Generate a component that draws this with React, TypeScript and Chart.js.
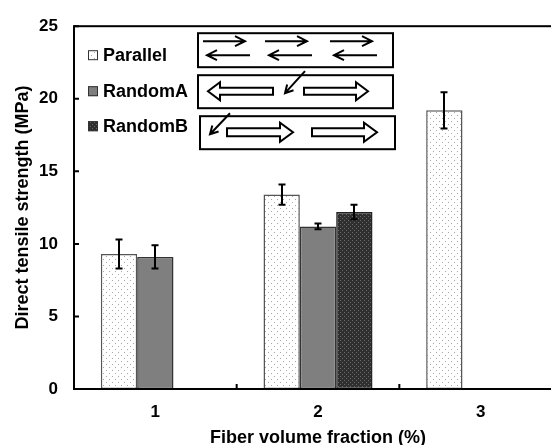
import React, { useEffect, useRef } from "react";
import { Chart, registerables } from "chart.js";

Chart.register(...registerables);

// ---- data ----
const categories = ["1", "2", "3"];
const seriesNames = ["Parallel", "RandomA", "RandomB"];
const parallelValues = [9.3, 13.4, 19.2];
const parallelErrors = [1.0, 0.7, 1.25];
const randomAValues = [9.1, 11.2, null];
const randomAErrors = [0.8, 0.2, null];
const randomBValues = [null, 12.2, null];
const randomBErrors = [null, 0.5, null];
const yTickValues = [0, 5, 10, 15, 20, 25];
const yTitle = "Direct tensile strength (MPa)";
const xTitle = "Fiber volume fraction (%)";

const FONT = "'Liberation Sans', Arial, Helvetica, sans-serif";

function makePattern(bg: string, dot: string, size: number, dots: [number, number][]) {
  const c = document.createElement("canvas");
  c.width = size;
  c.height = size;
  const g = c.getContext("2d")!;
  g.fillStyle = bg;
  g.fillRect(0, 0, size, size);
  g.fillStyle = dot;
  dots.forEach(([x, y]) => g.fillRect(x, y, 1, 1));
  const p = g.createPattern(c, "repeat");
  return p as CanvasPattern;
}

export default function App() {
  const ref = useRef<HTMLCanvasElement>(null);

  useEffect(() => {
    const canvas = ref.current!;
    const pParallel = makePattern("#ffffff", "#a8a8a8", 6, [[1, 1], [4, 4]]);
    const pRandomA = "#7f7f7f";
    const pRandomB = makePattern("#2f2f2f", "#6a6a6a", 4, [[0, 0], [2, 2]]);
    const fills: (string | CanvasPattern)[] = [pParallel, pRandomA, pRandomB];
    const borders = ["#555555", "#333333", "#222222"];
    const values = [parallelValues, randomAValues, randomBValues];
    const errors = [parallelErrors, randomAErrors, randomBErrors];

    const decor = {
      id: "decor",
      afterDatasetsDraw(chart: any) {
        const ctx: CanvasRenderingContext2D = chart.ctx;
        const { left, top, right, bottom } = chart.chartArea;
        const ys = chart.scales.y;
        const xs = chart.scales.x;
        ctx.save();
        // error bars
        ctx.strokeStyle = "#000";
        ctx.lineWidth = 2;
        errors.forEach((errArr, di) => {
          const meta = chart.getDatasetMeta(di);
          meta.data.forEach((el: any, i: number) => {
            const v = values[di][i];
            const e = errArr[i];
            if (v == null || e == null) return;
            const x = Math.round(el.x);
            const y1 = ys.getPixelForValue(v + e);
            const y2 = ys.getPixelForValue(v - e);
            ctx.beginPath();
            ctx.moveTo(x, y1);
            ctx.lineTo(x, y2);
            ctx.moveTo(x - 3.5, y1);
            ctx.lineTo(x + 3.5, y1);
            ctx.moveTo(x - 3.5, y2);
            ctx.lineTo(x + 3.5, y2);
            ctx.stroke();
          });
        });
        // frame
        ctx.lineWidth = 2;
        ctx.strokeRect(left, top, right - left, bottom - top);
        // inner ticks
        ctx.beginPath();
        yTickValues.forEach((t) => {
          const y = ys.getPixelForValue(t);
          ctx.moveTo(left, y);
          ctx.lineTo(left + 5, y);
        });
        for (let i = 1; i < categories.length; i++) {
          const xb = (xs.getPixelForValue(i - 1) + xs.getPixelForValue(i)) / 2;
          ctx.moveTo(xb, bottom);
          ctx.lineTo(xb, bottom - 5);
        }
        ctx.stroke();

        // legend
        const lx = left + 14;
        const rowY = [top + 29, top + 65, top + 100];
        ctx.font = `bold 18px ${FONT}`;
        ctx.textBaseline = "middle";
        ctx.textAlign = "left";
        seriesNames.forEach((name, i) => {
          ctx.fillStyle = fills[i] as any;
          ctx.fillRect(lx, rowY[i] - 5, 10, 10);
          ctx.lineWidth = 1;
          ctx.strokeStyle = "#333";
          ctx.strokeRect(lx + 0.5, rowY[i] - 4.5, 9, 9);
          ctx.fillStyle = "#000";
          ctx.fillText(name, lx + 15, rowY[i] + 1);
        });

        // boxes with arrows
        ctx.strokeStyle = "#000";
        ctx.lineWidth = 2;
        const bx = left + 124;
        ctx.strokeRect(bx, top + 7, 195, 34);
        ctx.strokeRect(bx, top + 49, 195, 33);
        ctx.strokeRect(bx + 2, top + 90, 195, 33);

        const lineArrow = (x1: number, y: number, x2: number) => {
          const d = Math.sign(x2 - x1);
          ctx.beginPath();
          ctx.moveTo(x1, y);
          ctx.lineTo(x2, y);
          ctx.moveTo(x2 - d * 10, y - 5);
          ctx.lineTo(x2, y);
          ctx.lineTo(x2 - d * 10, y + 5);
          ctx.stroke();
        };
        const diagArrow = (x1: number, y1: number, x2: number, y2: number) => {
          const a = Math.atan2(y2 - y1, x2 - x1);
          const h = 9;
          ctx.beginPath();
          ctx.moveTo(x1, y1);
          ctx.lineTo(x2, y2);
          ctx.moveTo(x2 - h * Math.cos(a - 0.5), y2 - h * Math.sin(a - 0.5));
          ctx.lineTo(x2, y2);
          ctx.lineTo(x2 - h * Math.cos(a + 0.5), y2 - h * Math.sin(a + 0.5));
          ctx.stroke();
        };
        const blockArrow = (tail: number, tip: number, y: number, sh: number, hh: number, hl: number) => {
          const d = Math.sign(tip - tail);
          const hb = tip - d * hl;
          ctx.beginPath();
          ctx.moveTo(tail, y - sh / 2);
          ctx.lineTo(hb, y - sh / 2);
          ctx.lineTo(hb, y - hh / 2);
          ctx.lineTo(tip, y);
          ctx.lineTo(hb, y + hh / 2);
          ctx.lineTo(hb, y + sh / 2);
          ctx.lineTo(tail, y + sh / 2);
          ctx.closePath();
          ctx.stroke();
        };
        ctx.lineWidth = 2;
        // box 1: parallel fibers
        [0, 62, 127].forEach((o) => {
          lineArrow(bx + 5 + o, top + 15, bx + 47 + o);
          lineArrow(bx + 52 + o, top + 29, bx + 9 + o);
        });
        // box 2
        blockArrow(bx + 75, bx + 10, top + 65, 7, 18, 12);
        blockArrow(bx + 106, bx + 170, top + 65, 7, 18, 12);
        diagArrow(bx + 107, top + 45, bx + 87, top + 67);
        // box 3
        diagArrow(bx + 32, top + 87, bx + 12, top + 108);
        blockArrow(bx + 29, bx + 95, top + 106, 8, 19, 13);
        blockArrow(bx + 114, bx + 179, top + 106, 8, 19, 13);
        ctx.restore();
      },
    };

    const chart = new Chart(canvas, {
      type: "bar",
      data: {
        labels: categories,
        datasets: seriesNames.map((name, i) => ({
          label: name,
          data: values[i] as any,
          backgroundColor: fills[i] as any,
          borderColor: borders[i],
          borderWidth: 1.5,
          borderSkipped: false,
          categoryPercentage: 0.67,
          barPercentage: 1.0,
        })),
      },
      options: {
        responsive: false,
        animation: false,
        devicePixelRatio: 1,
        layout: { padding: { top: 20, right: 13, left: 0, bottom: 0 } },
        plugins: {
          legend: { display: false },
          tooltip: { enabled: false },
        },
        scales: {
          x: {
            grid: { display: false, drawTicks: false },
            border: { display: false },
            ticks: { color: "#000", font: { family: FONT, size: 17, weight: "bold" }, padding: 13 },
            title: {
              display: true,
              text: xTitle,
              color: "#000",
              font: { family: FONT, size: 18, weight: "bold", lineHeight: 0.78 },
              padding: { top: 0, bottom: 0 },
            },
            afterFit: (s: any) => {
              s.height = 56;
            },
          },
          y: {
            min: 0,
            max: 25,
            grid: { display: false, drawTicks: false },
            border: { display: false },
            ticks: {
              stepSize: 5,
              color: "#000",
              font: { family: FONT, size: 17, weight: "bold" },
              padding: 16,
            },
            title: {
              display: true,
              text: yTitle,
              color: "#000",
              font: { family: FONT, size: 18, weight: "bold", lineHeight: 1.2 },
              padding: { top: 12, bottom: 0 },
            },
            afterFit: (s: any) => {
              s.width = 74;
            },
          },
        },
      } as any,
      plugins: [decor],
    });
    return () => chart.destroy();
  }, []);

  return (
    <div
      style={{
        position: "fixed",
        left: 0,
        top: 0,
        width: 551,
        height: 445,
        overflow: "hidden",
        background: "#fff",
      }}
    >
      <canvas ref={ref} width={575} height={445} />
    </div>
  );
}
